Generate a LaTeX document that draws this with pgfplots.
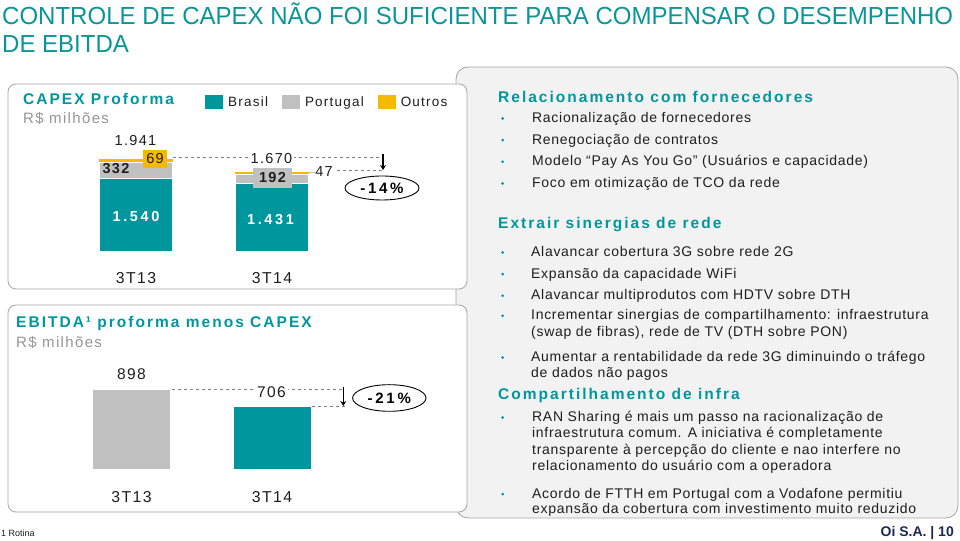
\documentclass[border=0pt]{standalone}
\usepackage{pgfplots}
\pgfplotsset{compat=1.18}
\usepackage{fontspec}
\usetikzlibrary{arrows.meta}
\setmainfont{Liberation Sans}
\newfontfamily\fa[LetterSpace=5]{Liberation Sans}
\newfontfamily\fb[LetterSpace=13]{Liberation Sans}
\newfontfamily\fc[LetterSpace=9]{Liberation Sans}
\newfontfamily\fd[LetterSpace=18]{Liberation Sans}
\newcommand\fs[1]{\fontsize{#1bp}{#1bp}\selectfont}
\definecolor{oiteal}{RGB}{0,150,158}
\definecolor{titteal}{RGB}{10,150,152}
\definecolor{bargray}{RGB}{192,192,192}
\definecolor{oiyellow}{RGB}{245,185,0}
\definecolor{boxgray}{RGB}{242,242,242}
\definecolor{edgegray}{RGB}{165,165,165}
\definecolor{subgray}{RGB}{150,150,150}
\definecolor{txt}{RGB}{30,30,30}
\definecolor{navy}{RGB}{30,40,90}
\newcommand\hd[3]{\node[anchor=base west,inner sep=0,text=oiteal] at (#1,#2) {\fb\fs{15.5}\bfseries #3};}
\newcommand\bl[3]{\fill[oiteal] (502.7,#2-4.2) circle (1.5); \node[anchor=base west,inner sep=0,text=txt] at (#1,#2) {\fa\fs{14}#3};}
\newcommand\cl[3]{\node[anchor=base west,inner sep=0,text=txt] at (#1,#2) {\fa\fs{14}#3};}
\newlength\tw
\begin{document}
\settowidth\tw{\fs{24.7}CONTROLE DE CAPEX NÃO FOI SUFICIENTE PARA COMPENSAR O DESEMPENHO}%
\pgfmathsetmacro\tsx{951bp/\tw}%
\begin{tikzpicture}
\path[use as bounding box] (0,0) rectangle (960bp,541bp);
\begin{scope}[x=1bp,y=-1bp,yshift=541bp]
\fill[white] (0,0) rectangle (960,541);
\node[anchor=base west,inner sep=0,text=titteal] at (2,25) {\scalebox{\tsx}[1]{\fs{24.7}CONTROLE DE CAPEX NÃO FOI SUFICIENTE PARA COMPENSAR O DESEMPENHO}};
\node[anchor=base west,inner sep=0,text=titteal] at (2,53) {\scalebox{\tsx}[1]{\fs{24.7}DE EBITDA}};
% right box
\draw[edgegray,fill=boxgray,line width=0.8bp,rounded corners=12bp] (456,67) rectangle (958,518);
% left boxes
\draw[edgegray,fill=white,line width=0.8bp,rounded corners=8bp] (8,84) rectangle (467,289);
\draw[edgegray,fill=white,line width=0.8bp,rounded corners=8bp] (8,305) rectangle (467,512);
% left headings
\node[anchor=base west,inner sep=0,text=oiteal] at (23,105) {\fb\fs{15.5}\bfseries CAPEX Proforma};
\node[anchor=base west,inner sep=0,text=subgray] at (23,124) {\fc\fs{15}R\$ milhões};
\node[anchor=base west,inner sep=0,text=oiteal] at (16,328) {\fb\fs{15.5}\bfseries EBITDA¹ proforma menos CAPEX};
\node[anchor=base west,inner sep=0,text=subgray] at (16,347.5) {\fc\fs{15}R\$ milhões};
% right text
\hd{498}{102.7}{Relacionamento com fornecedores}
\bl{532}{122.7}{Racionalização de fornecedores}
\bl{532}{144.3}{Renegociação de contratos}
\bl{532}{166}{Modelo “Pay As You Go” (Usuários e capacidade)}
\bl{532}{187.7}{Foco em otimização de TCO da rede}
\hd{498}{228.3}{Extrair sinergias de rede}
\bl{531}{256.7}{Alavancar cobertura 3G sobre rede 2G}
\bl{531}{278.3}{Expansão da capacidade WiFi}
\bl{531}{300}{Alavancar multiprodutos com HDTV sobre DTH}
\bl{531}{320}{Incrementar sinergias de compartilhamento: infraestrutura}
\cl{531}{336.5}{(swap de fibras), rede de TV (DTH sobre PON)}
\bl{531}{361.7}{Aumentar a rentabilidade da rede 3G diminuindo o tráfego}
\cl{531}{378}{de dados não pagos}
\hd{498}{399.3}{Compartilhamento de infra}
\bl{532}{421.7}{RAN Sharing é mais um passo na racionalização de}
\cl{532}{438}{infraestrutura comum. A iniciativa é completamente}
\cl{532}{454.3}{transparente à percepção do cliente e nao interfere no}
\cl{532}{470.7}{relacionamento do usuário com a operadora}
\bl{532}{498.3}{Acordo de FTTH em Portugal com a Vodafone permitiu}
\cl{532}{514}{expansão da cobertura com investimento muito reduzido}
% footer
\node[anchor=base west,inner sep=0,text=txt] at (1,536.5) {\fs{9}1 Rotina};
\node[anchor=base east,inner sep=0,text=navy] at (954,536.7) {\fs{14}\bfseries Oi S.A. | 10};
\end{scope}

% CAPEX chart
\begin{axis}[
  at={(40.8bp,289bp)}, anchor=south west,
  x=136bp, y=0.0479bp,
  xmin=-0.7, xmax=2.2, ymin=0, ymax=2000,
  clip=false,
  axis line style={draw=none}, major tick length=0, ytick=\empty,
  xtick={0,1}, xticklabels={3T13,3T14},
  xticklabel style={anchor=base, yshift=-32bp, font=\fc\fs{15.8}, text=txt},
  ybar stacked, bar width=74bp,
  legend style={at={(axis description cs:0.4163,1.5625)}, anchor=west, draw=none, fill=none,
    inner sep=0pt, legend columns=-1, font=\fc\fs{13.5}, text=txt,
    /tikz/every odd column/.append style={column sep=3bp},
    /tikz/every even column/.append style={column sep=12bp}},
  legend image code/.code={\fill[#1,draw=none] (0bp,-7bp) rectangle (18bp,7bp);},
]
\addplot[fill=oiteal, draw=white, line width=1.2bp] coordinates {(0,1540) (1,1431)};
\addplot[fill=bargray, draw=white, line width=1.2bp] coordinates {(0,332) (1,192)};
\addplot[fill=oiyellow, draw=none] coordinates {(0,69) (1,47)};
\legend{Brasil,Portugal,Outros}
\end{axis}

% EBITDA - CAPEX chart
\begin{axis}[
  at={(33.15bp,72bp)}, anchor=south west,
  x=140.5bp, y=0.0885bp,
  xmin=-0.7, xmax=2.2, ymin=0, ymax=1000,
  clip=false,
  axis line style={draw=none}, major tick length=0, ytick=\empty,
  xtick={0,1}, xticklabels={3T13,3T14},
  xticklabel style={anchor=base, yshift=-33.7bp, font=\fc\fs{15.8}, text=txt},
  ybar, bar width=77bp,
]
\addplot[fill=bargray, draw=none, bar shift=0pt] coordinates {(0,898)};
\addplot[fill=oiteal, draw=none, bar shift=0pt] coordinates {(1,706)};
\end{axis}

\begin{scope}[x=1bp,y=-1bp,yshift=541bp]
% CAPEX annotations
\draw[gray,dashed,line width=0.6bp] (173,157) -- (383,157);
\draw[gray,dashed,line width=0.6bp] (337,170) -- (383,170);
\draw[oiyellow,line width=1.5bp] (235,172.5) -- (310,172.5);
\draw[bargray,line width=1bp] (308,172.5) -- (315,172.5);
\draw[-{Stealth[length=5bp,width=6bp]},line width=1.2bp] (383,154) -- (383,170);
\draw[line width=0.9bp,fill=white] (382,188) ellipse [x radius=37, y radius=12];
\node[inner sep=0] at (382,188) {\fd\fs{15}\bfseries -14\%};
\node[anchor=base,inner sep=0,text=txt] at (135.5,146) {\fc\fs{14.5}1.941};
\node[anchor=base,inner sep=0,text=txt] at (116,174) {\fc\fs{14.5}\bfseries 332};
\node[fill=oiyellow,minimum width=24bp,minimum height=18bp,inner sep=0,text=txt] at (155,159) {\fc\fs{14.5}69};
\node[anchor=base,inner sep=0,text=white] at (136,221.7) {\fd\fs{14.5}\bfseries 1.540};
\node[anchor=base,inner sep=2bp,fill=white,text=txt] at (271.5,164) {\fc\fs{14.5}1.670};
\node[fill=bargray,minimum width=39bp,minimum height=19.7bp,inner sep=0,text=txt] at (272.5,178) {\fc\fs{14.5}\bfseries 192};
\node[anchor=base,inner sep=0,text=txt] at (324,176.7) {\fc\fs{14.5}47};
\node[anchor=base,inner sep=0,text=white] at (270.5,225) {\fd\fs{14.5}\bfseries 1.431};
% EBITDA annotations
\draw[gray,dashed,line width=0.6bp] (172,389) -- (345,389);
\draw[gray,dashed,line width=0.6bp] (312,406) -- (347,406);
\draw[-{Stealth[length=5bp,width=6bp]},line width=1.2bp] (343.3,387) -- (343.3,406);
\draw[line width=0.9bp,fill=white] (389.3,398) ellipse [x radius=36.7, y radius=13.3];
\node[inner sep=0] at (389.3,398) {\fd\fs{15}\bfseries -21\%};
\node[anchor=base,inner sep=0,text=txt] at (131.5,380) {\fc\fs{15.5}898};
\node[anchor=base,inner sep=2bp,fill=white,text=txt] at (271.5,398) {\fc\fs{15.5}706};
\end{scope}
\end{tikzpicture}
\end{document}
